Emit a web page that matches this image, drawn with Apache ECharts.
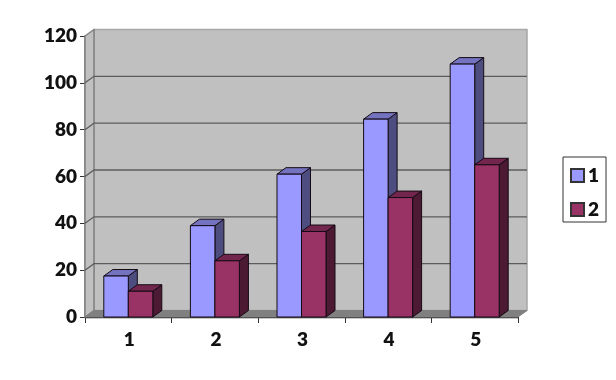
<!DOCTYPE html>
<html>
<head>
<meta charset="utf-8">
<style>
html,body{margin:0;padding:0;background:#fff;}
#chart{width:616px;height:380px;}
</style>
<script src="https://cdn.jsdelivr.net/npm/echarts@6/dist/echarts.min.js"></script>
</head>
<body>
<div id="chart"></div>
<script>
var categories = ['1','2','3','4','5'];
var series1 = [17.5,39,61,84.5,108];
var series2 = [11,24,36.5,51,65];
var yTicks = [0,20,40,60,80,100,120];

var depthX = 9, depthY = -6.5, barW = 24.5;
var fontName = 'Lato';

function poly(points,fill,stroke,width){
    return {
        type:'polygon',
        shape:{points:points},
        style:{fill:fill,stroke:stroke,lineWidth:width||1,lineJoin:'round'},
        silent:true
    };
}

// back wall, side wall, floor and the bent grid lines
function renderWall(params,api){
    var p0 = api.coord([0,0]);
    var p1 = api.coord([categories.length-1,120]);
    var band = api.size([1,0])[0];
    var l = p0[0]-band/2, r = p1[0]+band/2, b = p0[1], t = p1[1];
    var kids = [
        poly([[l+depthX,t+depthY],[r+depthX,t+depthY],[r+depthX,b+depthY],[l+depthX,b+depthY]],'#c0c0c0','#a6a6a6',1.5),
        poly([[l,t],[l+depthX,t+depthY],[l+depthX,b+depthY],[l,b]],'#c0c0c0','#808080',1.5),
        poly([[l,b],[l+depthX,b+depthY],[r+depthX,b+depthY],[r,b]],'#808080','#808080',1)
    ];
    yTicks.forEach(function(v){
        if(v===0 || v===120) return;
        var y = api.coord([0,v])[1];
        kids.push({
            type:'polyline',
            shape:{points:[[l,y],[l+depthX,y+depthY],[r+depthX,y+depthY]]},
            style:{fill:null,stroke:'#5c5c5c',lineWidth:1.3},
            silent:true
        });
    });
    return {type:'group',children:kids};
}

function barRenderer(offset,front,top,side){
    return function(params,api){
        var p = api.coord([api.value(0),api.value(1)]);
        var base = api.coord([api.value(0),0])[1];
        var x0 = p[0]+offset, x1 = x0+barW, y = p[1];
        return {type:'group',children:[
            poly([[x1,y],[x1+depthX,y+depthY],[x1+depthX,base+depthY],[x1,base]],side,'#140a14',1),
            poly([[x0,y],[x0+depthX,y+depthY],[x1+depthX,y+depthY],[x1,y]],top,'#140a14',1),
            poly([[x0,y],[x1,y],[x1,base],[x0,base]],front,'#140a14',1)
        ]};
    };
}

var labelStyle = {color:'#111',fontFamily:fontName,fontWeight:800,fontSize:19};

var chart = echarts.init(document.getElementById('chart'),null,{renderer:'canvas'});
chart.setOption({
    animation:false,
    backgroundColor:'#fff',
    grid:{left:85,right:98,top:36,bottom:63,containLabel:false},
    legend:{
        data:['1','2'],
        orient:'vertical',
        left:563,
        top:157,
        padding:[9,7,3,7],
        itemGap:15,
        itemWidth:13,
        itemHeight:13,
        icon:'rect',
        borderColor:'#333',
        borderWidth:1,
        textStyle:Object.assign({},labelStyle,{padding:[0,0,0,-1]})
    },
    xAxis:{
        type:'category',
        data:categories,
        boundaryGap:true,
        axisLine:{show:true,lineStyle:{color:'#222',width:1.3}},
        axisTick:{show:true,alignWithLabel:false,length:6,lineStyle:{color:'#333'}},
        axisLabel:Object.assign({},labelStyle,{margin:13,padding:[0,0,0,2]}),
        splitLine:{show:false}
    },
    yAxis:{
        type:'value',
        min:yTicks[0],
        max:yTicks[yTicks.length-1],
        interval:20,
        axisLine:{show:true,lineStyle:{color:'#808080',width:1.5}},
        axisTick:{show:true,length:5,lineStyle:{color:'#333'}},
        axisLabel:Object.assign({},labelStyle,{margin:8,padding:[0,0,3,0]}),
        splitLine:{show:false}
    },
    series:[
        {
            type:'custom',
            name:'wall',
            silent:true,
            z:1,
            clip:false,
            data:[[0,0]],
            renderItem:renderWall
        },
        {
            type:'custom',
            name:'1',
            z:2,
            clip:false,
            itemStyle:{color:'#9999ff',borderColor:'#333',borderWidth:1},
            data:series1.map(function(v,i){return [i,v];}),
            renderItem:barRenderer(-24.5,'#9999ff','#7373bf','#4d4d80')
        },
        {
            type:'custom',
            name:'2',
            z:3,
            clip:false,
            itemStyle:{color:'#993366',borderColor:'#333',borderWidth:1},
            data:series2.map(function(v,i){return [i,v];}),
            renderItem:barRenderer(0,'#993366','#73264d','#4d1a33')
        }
    ]
});
</script>
</body>
</html>
